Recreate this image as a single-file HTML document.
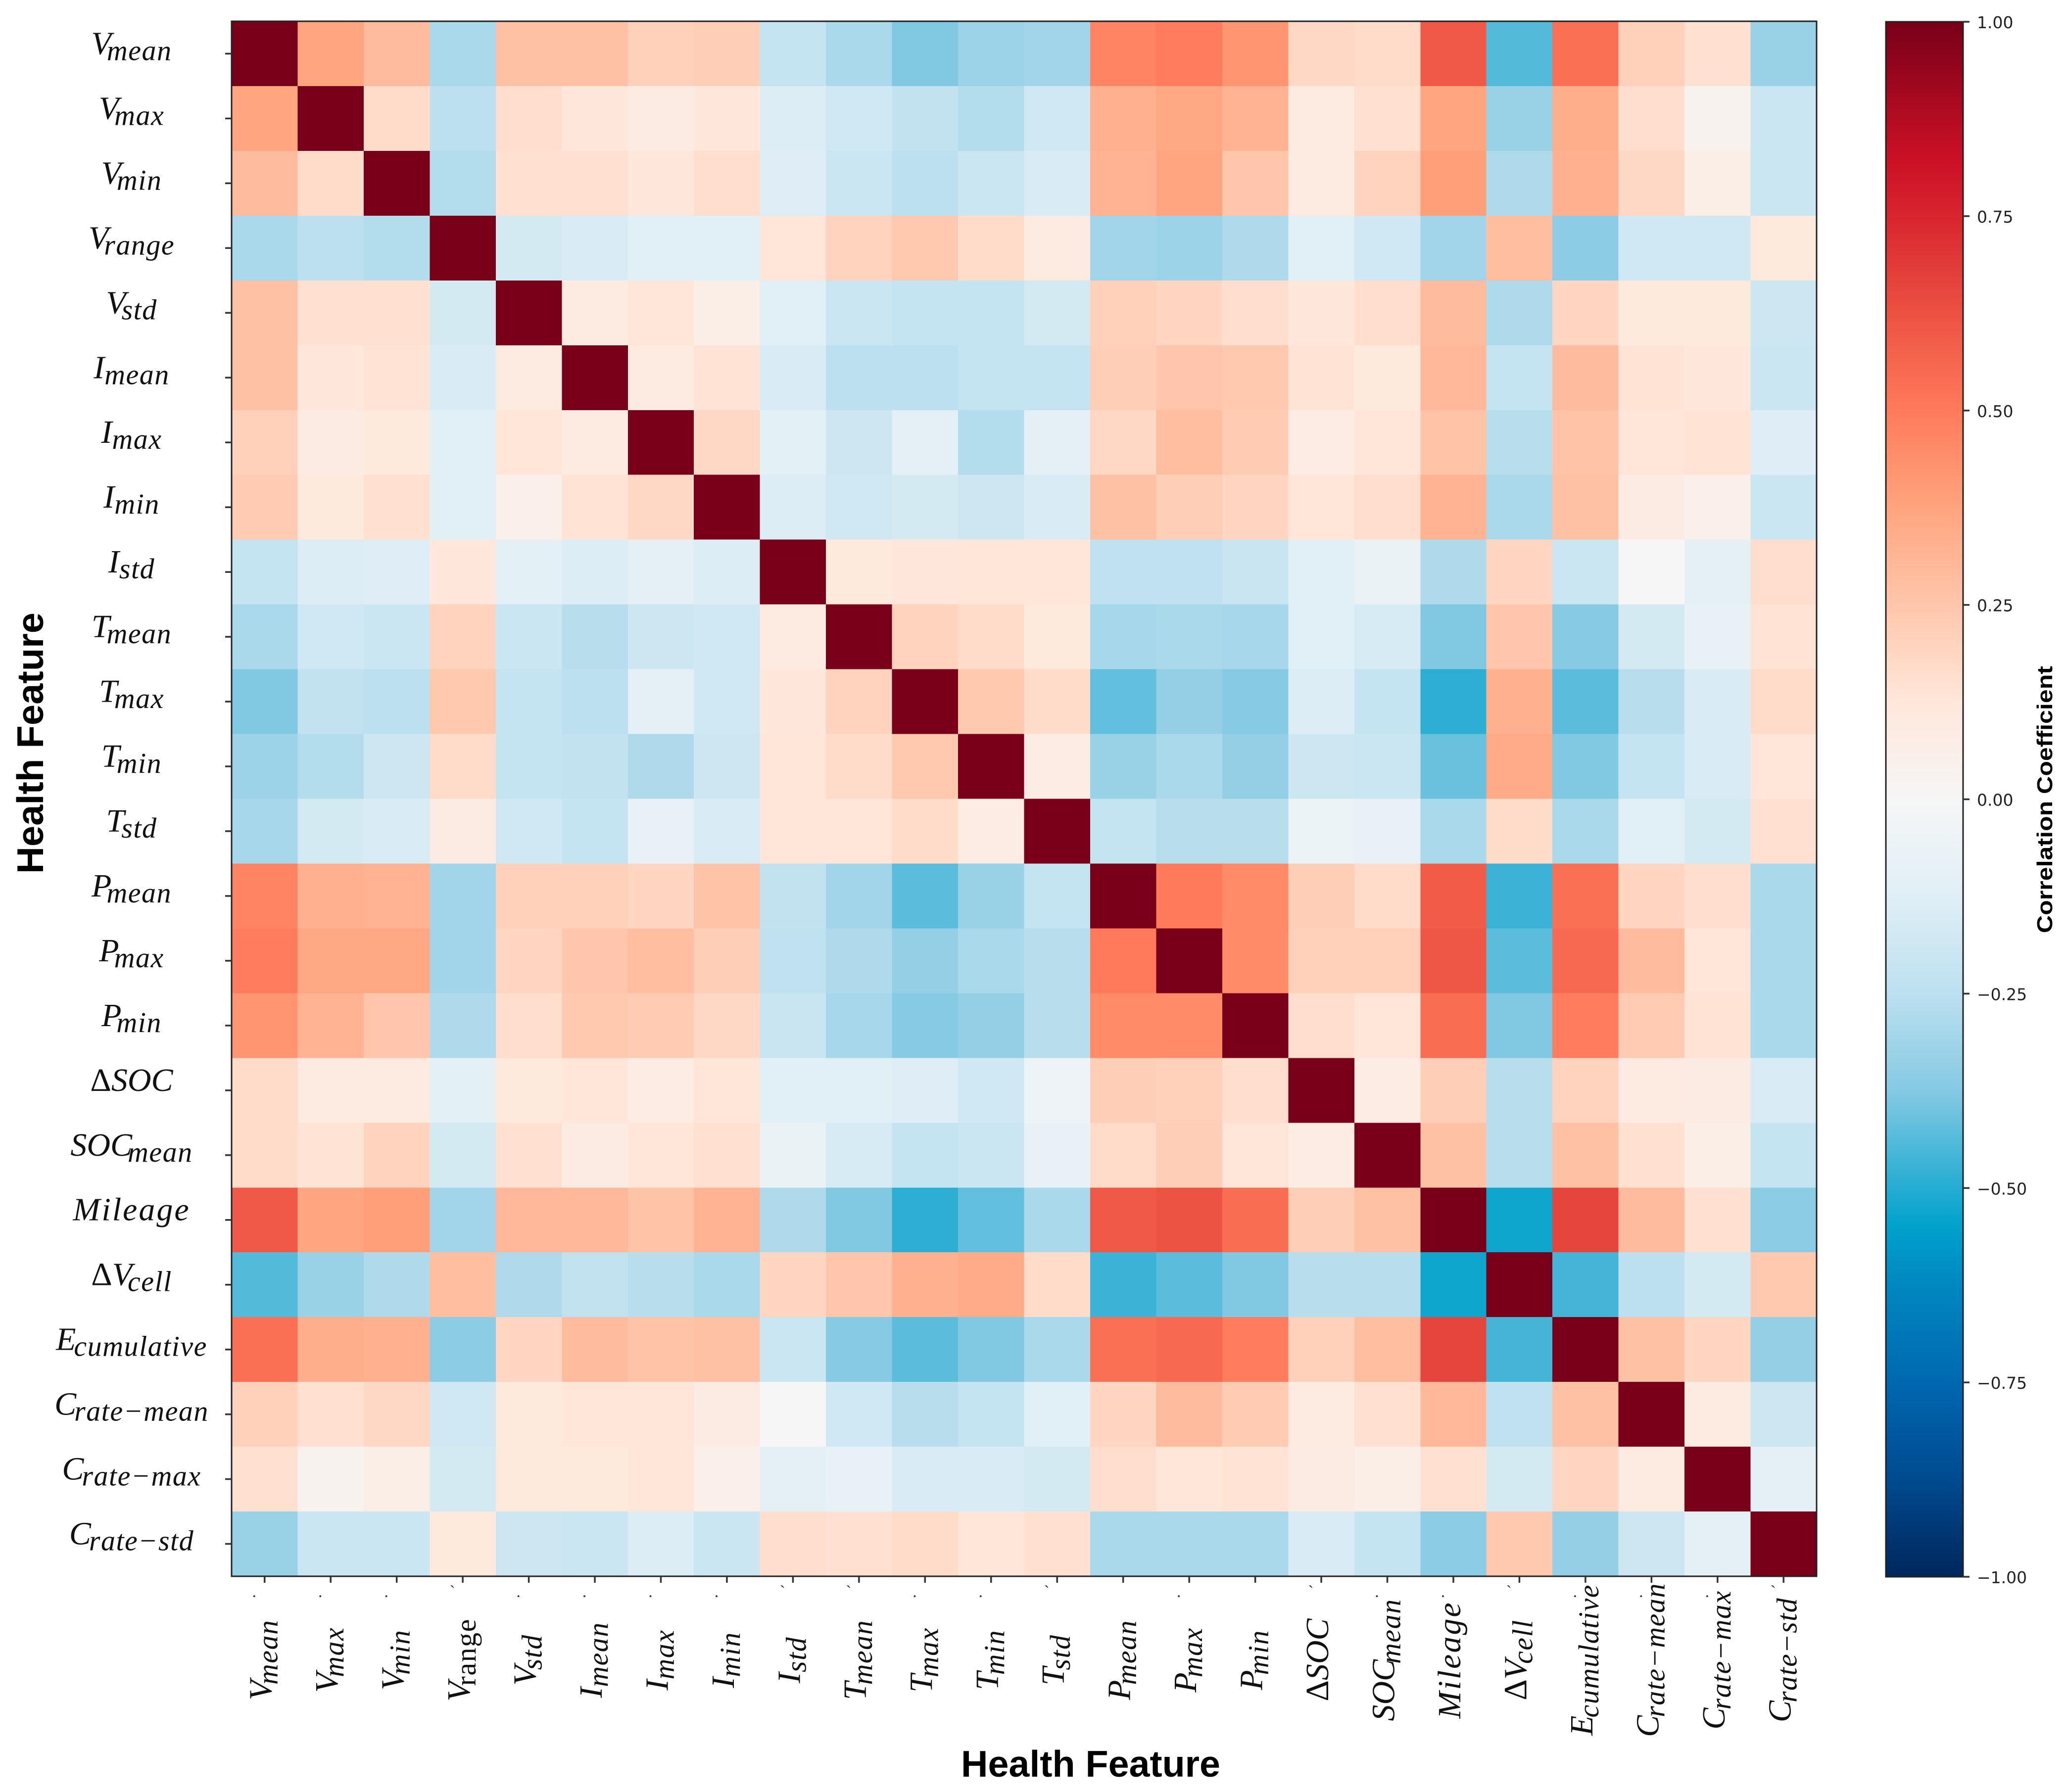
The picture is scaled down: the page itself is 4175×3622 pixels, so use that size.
<!DOCTYPE html>
<html lang="en">
<head>
<meta charset="utf-8">
<title>Health Feature Correlation Heatmap</title>
<style>
html,body{margin:0;padding:0;background:#fff;}
svg{display:block;}
.main-label{font-family:"Liberation Serif","DejaVu Serif",serif;font-style:italic;font-size:66px;fill:#111;}
.sub-label{font-size:58px;letter-spacing:1.5px;}
.upright{font-style:normal;}
.axis-title{font-family:"Liberation Sans",sans-serif;font-weight:700;fill:#000;}
.cbar-tick-label{font-family:"DejaVu Sans",sans-serif;font-size:33px;fill:#222;}
.residual-mark{font-family:"Liberation Serif",serif;font-size:34px;fill:#333;}
</style>
</head>
<body>
<svg id="chart" xmlns="http://www.w3.org/2000/svg" width="4175" height="3622" viewBox="0 0 4175 3622">
  <rect x="0" y="0" width="4175" height="3622" fill="#ffffff"/>
  <defs>
    <linearGradient id="cbarGradient" x1="0" y1="1" x2="0" y2="0"></linearGradient>
  </defs>
  <g id="cells"></g>
  <rect id="frame" fill="none" stroke="#222" stroke-width="3"/>
  <g id="yTicks"></g>
  <g id="xTicks"></g>
  <g id="yLabels"></g>
  <g id="xLabels"></g>
  <g id="xMarks"></g>
  <text class="axis-title" font-size="75" text-anchor="middle" textLength="528" lengthAdjust="spacingAndGlyphs" transform="translate(87,1502) rotate(-90)">Health Feature</text>
  <text class="axis-title" font-size="75" text-anchor="middle" textLength="524" lengthAdjust="spacingAndGlyphs" x="2204" y="3591">Health Feature</text>
  <rect id="cbar" fill="url(#cbarGradient)" stroke="#222" stroke-width="3"/>
  <g id="cbarTicks"></g>
  <text class="axis-title" font-size="44" text-anchor="middle" textLength="540" lengthAdjust="spacingAndGlyphs" transform="translate(4147,1616) rotate(-90)">Correlation Coefficient</text>
</svg>
<script>
// ---- Data ----
const labelMain = ['V','V','V','V','V','I','I','I','I','T','T','T','T','P','P','P','ΔSOC','SOC','Mileage','ΔV','E','C','C','C'];
const labelSub = ['mean','max','min','range','std','mean','max','min','std','mean','max','min','std','mean','max','min','','mean','','cell','cumulative','rate−mean','rate−max','rate−std'];
const xResidualMarks = ['.','.','.','`','.','.','.','.','`','`','.','.','`','','.','','`','.','.','`','.','.','.','`'];

const rowVmean = [1,.37,.29,-.29,.27,.27,.21,.22,-.22,-.29,-.38,-.32,-.31,.47,.49,.42,.18,.17,.6,-.44,.53,.21,.15,-.33];
const rowVmax = [.37,1,.17,-.25,.16,.12,.09,.12,-.14,-.18,-.23,-.27,-.18,.33,.36,.32,.1,.15,.37,-.33,.34,.16,.03,-.2];
const rowVmin = [.29,.17,1,-.27,.15,.15,.12,.16,-.13,-.2,-.25,-.2,-.15,.32,.37,.25,.1,.2,.39,-.28,.33,.18,.07,-.2];
const rowVrange = [-.29,-.25,-.27,1,-.17,-.15,-.12,-.12,.13,.2,.24,.17,.1,-.31,-.32,-.28,-.12,-.18,-.31,.28,-.36,-.18,-.18,.11];
const rowVstd = [.27,.15,.15,-.17,1,.1,.13,.07,-.12,-.2,-.22,-.22,-.17,.21,.19,.16,.12,.16,.29,-.28,.19,.11,.11,-.19];
const rowImean = [.27,.12,.14,-.15,.1,1,.1,.14,-.15,-.25,-.25,-.22,-.22,.22,.25,.24,.14,.11,.3,-.22,.29,.14,.12,-.2];
const rowImax = [.21,.09,.11,-.12,.13,.1,1,.18,-.11,-.19,-.1,-.27,-.1,.18,.28,.23,.08,.13,.26,-.26,.26,.13,.14,-.13];
const rowImin = [.23,.11,.15,-.12,.06,.14,.18,1,-.14,-.18,-.17,-.19,-.15,.27,.22,.19,.13,.16,.32,-.29,.27,.09,.06,-.2];
const rowIstd = [-.22,-.14,-.13,.12,-.11,-.14,-.1,-.14,1,.11,.12,.13,.13,-.24,-.24,-.21,-.12,-.07,-.28,.19,-.2,0,-.1,.16];
const rowTmean = [-.29,-.18,-.2,.2,-.2,-.26,-.19,-.18,.1,1,.2,.17,.11,-.3,-.29,-.3,-.12,-.16,-.38,.25,-.37,-.17,-.08,.14];
const rowTmax = [-.38,-.23,-.25,.24,-.22,-.25,-.1,-.18,.12,.2,1,.24,.17,-.42,-.34,-.37,-.14,-.22,-.49,.33,-.43,-.26,-.15,.17];
const rowTmin = [-.32,-.27,-.19,.17,-.22,-.23,-.28,-.19,.13,.17,.24,1,.08,-.33,-.29,-.34,-.19,-.2,-.41,.35,-.38,-.22,-.15,.13];
const rowTstd = [-.3,-.17,-.15,.09,-.18,-.22,-.08,-.15,.13,.13,.17,.08,1,-.22,-.26,-.26,-.06,-.08,-.29,.17,-.29,-.12,-.17,.15];
const rowPmean = [.47,.33,.32,-.31,.21,.21,.19,.26,-.23,-.31,-.43,-.33,-.22,1,.5,.45,.22,.17,.59,-.47,.53,.19,.16,-.29];
const rowPmax = [.49,.36,.36,-.31,.19,.25,.28,.22,-.24,-.28,-.34,-.29,-.26,.5,1,.45,.21,.21,.61,-.43,.55,.29,.13,-.29];
const rowPmin = [.42,.32,.25,-.28,.16,.24,.23,.18,-.21,-.3,-.37,-.34,-.26,.45,.45,1,.16,.13,.54,-.38,.49,.23,.14,-.29];
const rowDeltaSoc = [.17,.1,.1,-.11,.11,.13,.08,.13,-.12,-.12,-.13,-.18,-.05,.22,.21,.16,1,.08,.22,-.26,.2,.1,.09,-.15];
const rowSocMean = [.17,.14,.2,-.17,.15,.09,.13,.15,-.07,-.16,-.22,-.2,-.08,.17,.22,.13,.08,1,.27,-.26,.27,.15,.07,-.22];
const rowMileage = [.6,.37,.39,-.31,.3,.3,.26,.32,-.28,-.38,-.49,-.42,-.29,.6,.62,.54,.22,.27,1,-.53,.66,.29,.15,-.36];
const rowDeltaVcell = [-.44,-.33,-.28,.28,-.28,-.23,-.26,-.29,.19,.25,.33,.35,.17,-.47,-.43,-.38,-.26,-.26,-.53,1,-.46,-.25,-.17,.24];
const rowEcumulative = [.53,.34,.33,-.36,.19,.29,.26,.27,-.2,-.37,-.43,-.38,-.29,.53,.55,.49,.21,.28,.66,-.46,1,.27,.19,-.34];
const rowCrateMean = [.21,.15,.18,-.18,.11,.13,.13,.09,0,-.18,-.26,-.22,-.12,.19,.29,.23,.1,.15,.3,-.24,.27,1,.1,-.19];
const rowCrateMax = [.15,.03,.07,-.17,.11,.11,.13,.06,-.1,-.08,-.15,-.15,-.17,.16,.13,.14,.09,.07,.15,-.17,.19,.1,1,-.1];
const rowCrateStd = [-.33,-.2,-.2,.11,-.19,-.2,-.14,-.2,.16,.15,.17,.13,.15,-.29,-.29,-.29,-.15,-.22,-.36,.24,-.34,-.19,-.1,1];
const correlation = [rowVmean,rowVmax,rowVmin,rowVrange,rowVstd,rowImean,rowImax,rowImin,rowIstd,rowTmean,rowTmax,rowTmin,rowTstd,rowPmean,rowPmax,rowPmin,rowDeltaSoc,rowSocMean,rowMileage,rowDeltaVcell,rowEcumulative,rowCrateMean,rowCrateMax,rowCrateStd];

const colorbarTicks = [1,0.75,0.5,0.25,0,-0.25,-0.5,-0.75,-1];
const colorbarTickLabels = ['1.00','0.75','0.50','0.25','0.00','−0.25','−0.50','−0.75','−1.00'];

// ---- Colour scale (value, colour) ----
const scaleValues = [-1,-.875,-.75,-.625,-.55,-.5,-.375,-.25,-.125,0,.125,.25,.375,.5,.625,.75,.82,1];
const scaleColors = ['#00275c','#004a90','#0068b0','#0088c0','#00a2cc','#25acd2','#85c9e3','#bce0ef','#e0eff6','#f6f6f6','#ffe7da','#ffc6ab','#ffa47e','#ff7a5b','#ec5142','#d8252f','#cd1126','#780018'];

// ---- Layout ----
const plotLeft = 468, plotRight = 3671, plotTop = 43, plotBottom = 3186;
const cbarLeft = 3811, cbarRight = 3967, cbarTop = 44, cbarBottom = 3187;
const nFeatures = correlation.length;
const NS = 'http://www.w3.org/2000/svg';

function xScale(i){ return plotLeft + (plotRight - plotLeft) * i / nFeatures; }
function yScale(i){ return plotTop + (plotBottom - plotTop) * i / nFeatures; }
function cbarScale(v){ return cbarBottom - (v + 1) / 2 * (cbarBottom - cbarTop); }

function hexToRgb(h){ return [parseInt(h.slice(1,3),16),parseInt(h.slice(3,5),16),parseInt(h.slice(5,7),16)]; }
function colorFor(v){
  const c = Math.max(-1, Math.min(1, v));
  let k = 0;
  while (k < scaleValues.length - 2 && c > scaleValues[k + 1]) k++;
  const t = (c - scaleValues[k]) / (scaleValues[k + 1] - scaleValues[k]);
  const a = hexToRgb(scaleColors[k]), b = hexToRgb(scaleColors[k + 1]);
  return 'rgb(' + a.map((p, n) => Math.round(p + (b[n] - p) * t)).join(',') + ')';
}
function make(tag, attrs, parent){
  const el = document.createElementNS(NS, tag);
  for (const key in attrs) el.setAttribute(key, attrs[key]);
  parent.appendChild(el);
  return el;
}
const subGap = {V:-9, T:-6, P:-10, I:0, C:-4, E:-4};
function fillLabel(textEl, idx, uprightRange){
  const main = labelMain[idx];
  const sub = labelSub[idx];
  let body = main;
  if (main.charAt(0) === 'Δ') {
    const delta = make('tspan', {'class':'upright'}, textEl);
    delta.textContent = 'Δ';
    body = main.slice(1);
  }
  if (main === 'Mileage') textEl.setAttribute('letter-spacing', '3');
  const bodySpan = make('tspan', {}, textEl);
  bodySpan.textContent = body;
  if (sub) {
    const cls = (uprightRange && sub === 'range') ? 'sub-label upright' : 'sub-label';
    const gap = subGap[body] !== undefined ? subGap[body] : -9;
    const subSpan = make('tspan', {'class':cls, dx:gap, dy:12}, textEl);
    subSpan.textContent = sub;
  }
}

const cellsG = document.getElementById('cells');
const yTicksG = document.getElementById('yTicks');
const xTicksG = document.getElementById('xTicks');
const yLabelsG = document.getElementById('yLabels');
const xLabelsG = document.getElementById('xLabels');
const xMarksG = document.getElementById('xMarks');
const cbarTicksG = document.getElementById('cbarTicks');
const cbarGradient = document.getElementById('cbarGradient');

// Cells
correlation.forEach((row, r) => {
  row.forEach((value, c) => {
    const cell = make('rect', {x:xScale(c), y:yScale(r), width:xScale(c+1)-xScale(c)+0.6, height:yScale(r+1)-yScale(r)+0.6, fill:colorFor(value), 'shape-rendering':'crispEdges'}, cellsG);
    
    
  });
});

// Frame
const frame = document.getElementById('frame');
frame.setAttribute('x', plotLeft);
frame.setAttribute('y', plotTop);
frame.setAttribute('width', plotRight - plotLeft);
frame.setAttribute('height', plotBottom - plotTop);

// Axis ticks and labels
for (let i = 0; i < nFeatures; i++) {
  const yMid = yScale(i + 0.5);
  const xMid = xScale(i + 0.5);

  const yTick = make('line', {x1:plotLeft-13, x2:plotLeft, y1:yMid, y2:yMid, stroke:'#333', 'stroke-width':3.5}, yTicksG);
  
  

  const xTick = make('line', {x1:xMid, x2:xMid, y1:plotBottom, y2:plotBottom+13, stroke:'#333', 'stroke-width':3.5}, xTicksG);
  
  

  const yLabel = make('text', {'class':'main-label', 'text-anchor':'middle', x:266, y:yMid+1}, yLabelsG);
  
  
  fillLabel(yLabel, i, false);

  const xLabel = make('text', {'class':'main-label', 'text-anchor':'middle', transform:'translate(' + (xMid + 14) + ',3355) rotate(-90)'}, xLabelsG);
  
  
  fillLabel(xLabel, i, true);

  if (xResidualMarks[i]) {
    const mark = make('text', {'class':'residual-mark', x:xMid-21, y:3228, 'text-anchor':'middle'}, xMarksG);
    
    
    mark.textContent = xResidualMarks[i];
  }
}

// Colorbar
scaleValues.forEach((v, i) => {
  const stop = make('stop', {offset:((v + 1) / 2), 'stop-color':scaleColors[i]}, cbarGradient);
  
  
});
const cbar = document.getElementById('cbar');
cbar.setAttribute('x', cbarLeft);
cbar.setAttribute('y', cbarTop);
cbar.setAttribute('width', cbarRight - cbarLeft);
cbar.setAttribute('height', cbarBottom - cbarTop);

colorbarTicks.forEach((v, i) => {
  const y = cbarScale(v);
  const tick = make('line', {x1:cbarRight, x2:cbarRight+13, y1:y, y2:y, stroke:'#333', 'stroke-width':3.5}, cbarTicksG);
  
  
  const label = make('text', {'class':'cbar-tick-label', x:3995, y:y+13}, cbarTicksG);
  
  
  label.textContent = colorbarTickLabels[i];
});
</script>
</body>
</html>
